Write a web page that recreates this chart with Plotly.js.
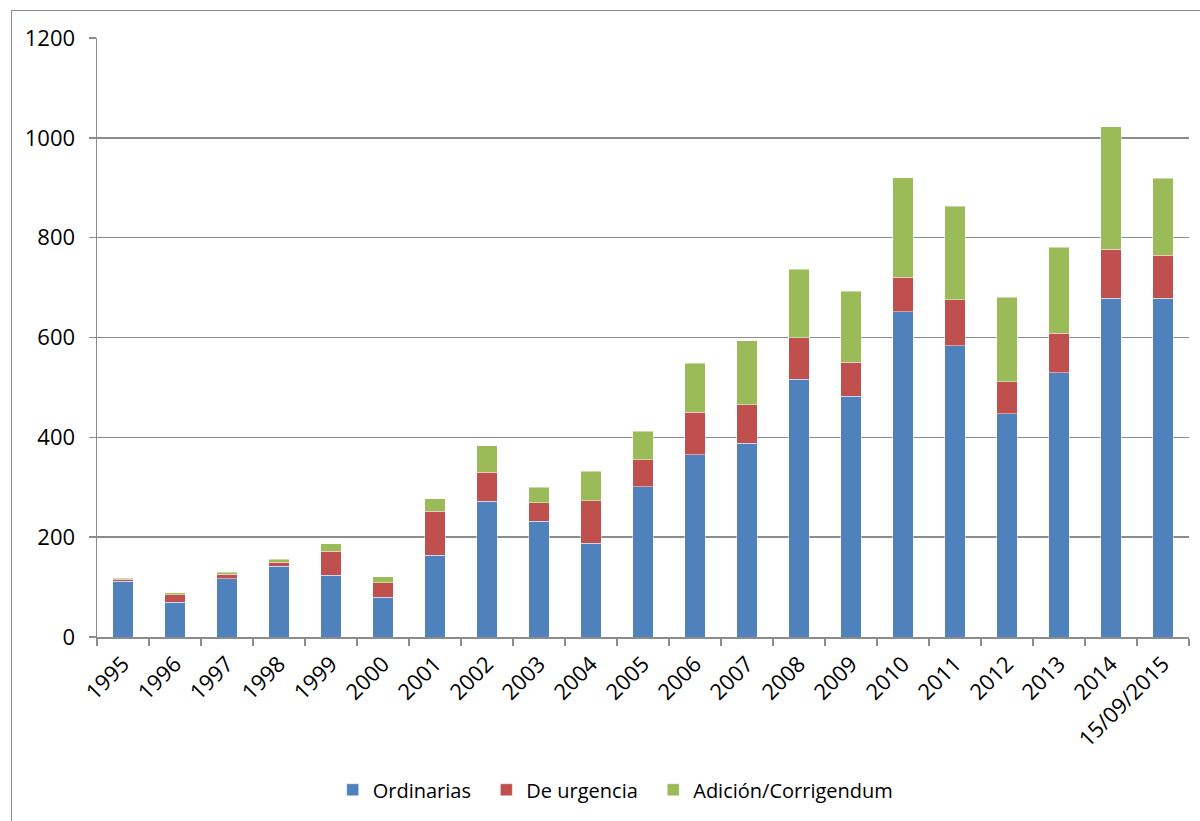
<!DOCTYPE html>
<html>
<head>
<meta charset="utf-8">
<script src="https://cdn.plot.ly/plotly-3.0.1.min.js"></script>
<style>
html,body{margin:0;padding:0;overflow:hidden;background:#fff;}
#frame{position:absolute;left:11px;top:10px;width:1400px;height:1000px;border:1px solid #8c8c8c;pointer-events:none;}
#chart{position:absolute;left:0;top:0;width:1200px;height:821px;}
</style>
</head>
<body>
<div id="chart"></div>
<div id="frame"></div>
<script>
const categories = ["1995","1996","1997","1998","1999","2000","2001","2002","2003","2004","2005","2006","2007","2008","2009","2010","2011","2012","2013","2014","15/09/2015"];
const ordinarias = [112,70,117,142,124,80,164,272,232,188,301,365,388,516,482,652,583,447,529,679,679];
const deUrgencia = [4,15,9,8,48,29,88,58,37,85,54,85,77,84,68,69,93,64,80,98,86];
const adicion = [2,4,4,6,15,12,25,53,31,59,57,98,128,137,143,199,187,170,172,245,154];

const seriesNames = ["Ordinarias","De urgencia","Adición/Corrigendum"];
const colors = ["#4F81BD","#C0504D","#9BBB59"];
const yTicks = [0,200,400,600,800,1000,1200];

const pad = "\u00a0\u00a0";
const data = [ordinarias, deUrgencia, adicion].map((vals, i) => ({
  type: "bar",
  name: seriesNames[i] + (i < 2 ? pad : ""),
  x: categories,
  y: vals,
  marker: {color: colors[i], line: {color: "rgba(255,255,255,0.45)", width: 1}},
  hoverinfo: "x+y+name"
}));

const fam = "'Open Sans', 'Noto Sans', sans-serif";
const tickFont = {family: fam, size: 22, color: "#000"};
const legFont = {family: fam, size: 20, color: "#000"};

const layout = {
  width: 1200, height: 821,
  margin: {l: 97, r: 11, t: 38, b: 184},
  paper_bgcolor: "#fff", plot_bgcolor: "#fff",
  barmode: "stack",
  bargap: 0.6,
  font: legFont,
  showlegend: true,
  legend: {
    orientation: "h", x: 0.475, xanchor: "center", y: -0.255, yanchor: "middle",
    font: legFont, traceorder: "normal", itemclick: false
  },
  xaxis: {
    type: "category",
    tickangle: -45,
    ticks: "outside", ticklen: 7, tickcolor: "#8c8c8c", tickwidth: 1.5,
    tickson: "boundaries",
    ticklabelstandoff: 4,
    showline: true, linecolor: "#8c8c8c", linewidth: 1.5,
    showgrid: false,
    tickfont: tickFont,
    automargin: false
  },
  yaxis: {
    range: [0, 1200],
    tickvals: yTicks,
    ticktext: yTicks.map(String),
    ticks: "outside", ticklen: 7, tickcolor: "#8c8c8c", tickwidth: 1.5,
    ticklabelstandoff: 9,
    showline: true, linecolor: "#8c8c8c", linewidth: 1.5,
    showgrid: true, gridcolor: "#8c8c8c", gridwidth: 1.5,
    zeroline: false,
    tickfont: tickFont,
    automargin: false
  }
};

Plotly.newPlot("chart", data, layout, {displayModeBar: false, staticPlot: true});
</script>
</body>
</html>
